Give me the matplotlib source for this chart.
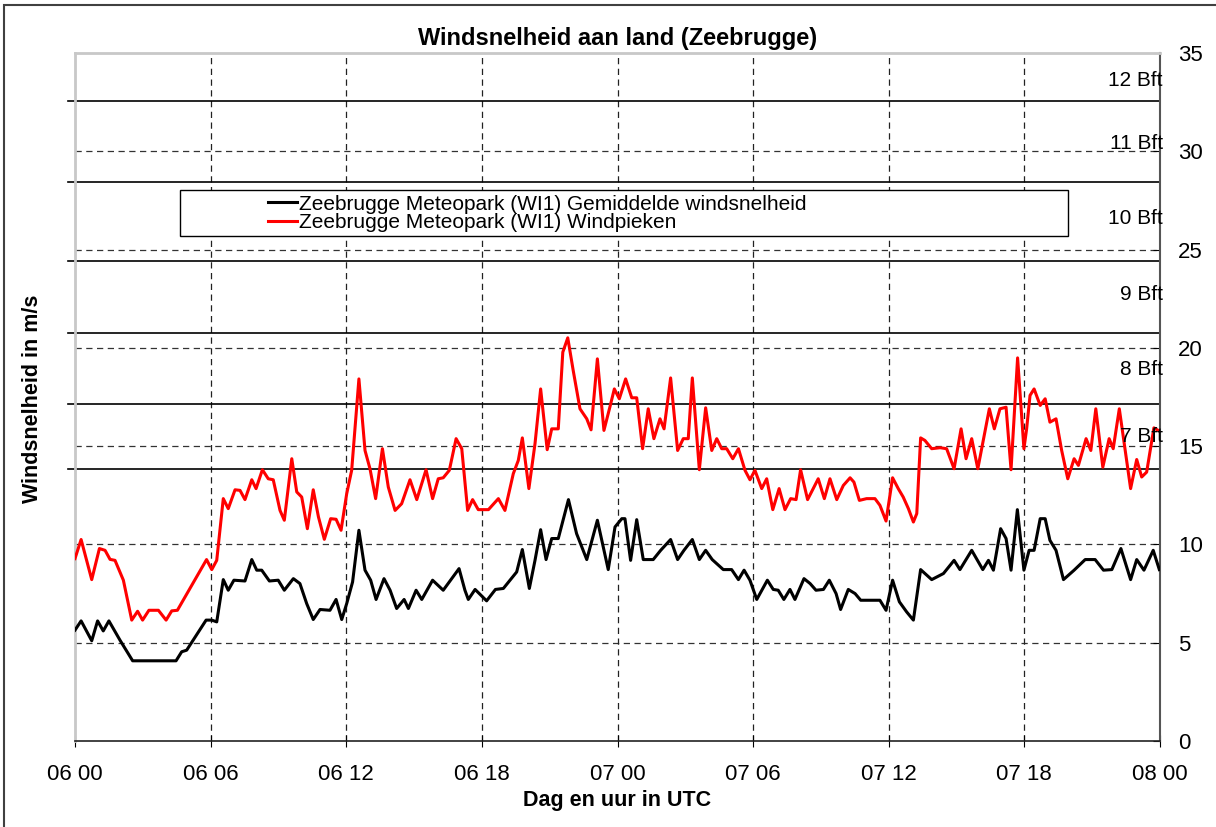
import matplotlib
matplotlib.use("Agg")
import matplotlib.pyplot as plt
from matplotlib.patches import Rectangle
import numpy as np

plt.rcParams['font.family'] = ['Liberation Sans', 'DejaVu Sans']

title = "Windsnelheid aan land (Zeebrugge)"
xlabel = "Dag en uur in UTC"
ylabel = "Windsnelheid in m/s"
label_mean = "Zeebrugge Meteopark (WI1) Gemiddelde windsnelheid"
label_gust = "Zeebrugge Meteopark (WI1) Windpieken"

xtick_pos = [0, 6, 12, 18, 24, 30, 36, 42, 48]
xtick_labels = ["06 00", "06 06", "06 12", "06 18", "07 00", "07 06", "07 12", "07 18", "08 00"]
ytick_pos = [0, 5, 10, 15, 20, 25, 30, 35]

bft_bounds = [13.85, 17.12, 20.75, 24.4, 28.42, 32.55]
bft_names = ["7 Bft", "8 Bft", "9 Bft", "10 Bft", "11 Bft", "12 Bft"]
bft_label_y = [15.5, 18.9, 22.7, 26.6, 30.4, 33.6]

# hours since 06 00 UTC, wind peaks (m/s)
gust_t = [0.00, 0.27, 0.74, 1.08, 1.33, 1.55, 1.77, 2.14, 2.51, 2.77, 2.99, 3.27, 3.69, 4.03, 4.28, 4.53,
          5.82, 6.05, 6.27, 6.56, 6.78, 7.08, 7.30, 7.52, 7.82, 8.01, 8.29, 8.55, 8.77, 9.07, 9.26, 9.59,
          9.81, 10.03, 10.28, 10.54, 10.77, 11.03, 11.31, 11.55, 11.77, 12.02, 12.24, 12.56, 12.83, 13.05,
          13.30, 13.60, 13.86, 14.16, 14.45, 14.82, 15.12, 15.53, 15.82, 16.07, 16.29, 16.56, 16.86, 17.11,
          17.37, 17.59, 17.84, 18.29, 18.73, 19.02, 19.39, 19.61, 19.79, 20.08, 20.35, 20.60, 20.89, 21.09,
          21.38, 21.58, 21.80, 22.04, 22.34, 22.64, 22.83, 23.11, 23.40, 23.67, 23.86, 24.08, 24.36, 24.63,
          24.85, 25.11, 25.36, 25.61, 25.88, 26.06, 26.35, 26.66, 26.91, 27.13, 27.31, 27.62, 27.90, 28.17,
          28.39, 28.61, 28.83, 29.10, 29.35, 29.64, 29.86, 30.08, 30.38, 30.60, 30.87, 31.15, 31.41, 31.66,
          31.90, 32.10, 32.41, 32.66, 32.88, 33.15, 33.40, 33.70, 33.99, 34.29, 34.46, 34.70, 35.02, 35.39,
          35.61, 35.88, 36.17, 36.42, 36.64, 36.87, 37.09, 37.24, 37.41, 37.60, 37.90, 38.27, 38.56, 38.89,
          39.20, 39.42, 39.67, 39.94, 40.18, 40.45, 40.67, 40.92, 41.19, 41.41, 41.70, 41.98, 42.10, 42.25,
          42.43, 42.70, 42.92, 43.13, 43.40, 43.65, 43.92, 44.20, 44.39, 44.73, 44.94, 45.16, 45.47, 45.75,
          45.93, 46.20, 46.45, 46.70, 46.97, 47.19, 47.41, 47.73, 47.92]
gust_v = [9.28, 10.25, 8.21, 9.79, 9.70, 9.24, 9.19, 8.18, 6.15, 6.60, 6.15, 6.65, 6.65, 6.15, 6.62, 6.65,
          9.23, 8.72, 9.19, 12.33, 11.82, 12.78, 12.75, 12.28, 13.29, 12.84, 13.80, 13.34, 13.29, 11.73, 11.23, 14.36,
          12.67, 12.41, 10.80, 12.78, 11.40, 10.26, 11.31, 11.28, 10.72, 12.58, 13.77, 18.42, 14.78, 13.85,
          12.33, 14.87, 12.92, 11.73, 12.07, 13.29, 12.28, 13.80, 12.33, 13.34, 13.39, 13.77, 15.38, 14.87,
          11.73, 12.28, 11.77, 11.77, 12.33, 11.73, 13.60, 14.27, 15.42, 12.84, 15.12, 17.91, 14.82, 15.88,
          15.88, 19.78, 20.51, 18.85, 16.90, 16.39, 15.83, 19.44, 15.80, 17.02, 17.91, 17.41, 18.42, 17.46,
          17.46, 14.87, 16.90, 15.38, 16.39, 15.88, 18.47, 14.78, 15.38, 15.38, 18.47, 13.80, 16.95, 14.78,
          15.38, 14.87, 14.87, 14.36, 14.87, 13.77, 13.29, 13.77, 12.84, 13.34, 11.77, 12.84, 11.77, 12.33,
          12.28, 13.80, 12.28, 12.84, 13.34, 12.33, 13.34, 12.28, 13.00, 13.39, 13.17, 12.24, 12.33, 12.33,
          11.99, 11.19, 13.39, 12.84, 12.41, 11.82, 11.14, 11.57, 15.42, 15.29, 14.87, 14.92, 14.87, 13.85,
          15.88, 14.36, 15.38, 13.85, 15.29, 16.90, 15.88, 16.90, 16.98, 13.80, 19.49, 14.87, 15.88, 17.58,
          17.91, 17.07, 17.41, 16.22, 16.39, 14.78, 13.34, 14.36, 14.02, 15.38, 14.78, 16.90, 13.93, 15.38,
          14.87, 16.90, 14.87, 12.84, 14.32, 13.43, 13.68, 15.93, 15.80]

# hours since 06 00 UTC, mean wind speed (m/s)
mean_t = [0.00, 0.27, 0.74, 1.00, 1.25, 1.50, 1.99, 2.55, 4.47, 4.72, 4.94, 5.80, 6.05, 6.27, 6.56, 6.78,
          7.03, 7.52, 7.82, 8.04, 8.26, 8.60, 8.99, 9.26, 9.66, 9.95, 10.25, 10.54, 10.84, 11.28, 11.55, 11.80,
          12.02, 12.28, 12.56, 12.83, 13.08, 13.32, 13.67, 13.94, 14.23, 14.56, 14.75, 15.09, 15.34, 15.82,
          16.29, 16.99, 17.25, 17.40, 17.70, 18.21, 18.60, 18.95, 19.54, 19.79, 20.10, 20.35, 20.60, 20.84,
          21.09, 21.38, 21.83, 22.19, 22.64, 23.11, 23.59, 23.89, 24.19, 24.33, 24.58, 24.85, 25.14, 25.58,
          25.91, 26.35, 26.66, 26.94, 27.31, 27.62, 27.90, 28.19, 28.68, 29.05, 29.35, 29.60, 29.86, 30.16,
          30.63, 30.89, 31.11, 31.36, 31.63, 31.85, 32.25, 32.52, 32.78, 33.11, 33.37, 33.67, 33.87, 34.21,
          34.51, 34.76, 35.61, 35.88, 36.17, 36.47, 36.79, 37.09, 37.41, 37.90, 38.42, 38.89, 39.15, 39.67,
          40.16, 40.41, 40.63, 40.95, 41.19, 41.41, 41.69, 41.98, 42.21, 42.43, 42.70, 42.92, 43.13, 43.40,
          43.73, 44.20, 44.69, 45.13, 45.50, 45.87, 46.27, 46.70, 46.97, 47.29, 47.70, 47.97]
mean_v = [5.64, 6.11, 5.10, 6.11, 5.60, 6.11, 5.13, 4.08, 4.08, 4.54, 4.62, 6.15, 6.15, 6.06, 8.21, 7.67,
          8.18, 8.14, 9.23, 8.69, 8.69, 8.14, 8.18, 7.67, 8.26, 8.01, 6.99, 6.18, 6.69, 6.65, 7.20, 6.18,
          6.99, 8.09, 10.72, 8.69, 8.18, 7.20, 8.26, 7.67, 6.74, 7.20, 6.74, 7.67, 7.20, 8.18,
          7.67, 8.77, 7.67, 7.20, 7.71, 7.13, 7.71, 7.76, 8.60, 9.74, 7.76, 9.19, 10.75, 9.23,
          10.30, 10.30, 12.28, 10.55, 9.23, 11.23, 8.72, 10.89, 11.31, 11.31, 9.19, 11.26, 9.23, 9.23,
          9.70, 10.25, 9.23, 9.70, 10.25, 9.23, 9.70, 9.23, 8.72, 8.72, 8.21, 8.69, 8.18, 7.20,
          8.18, 7.71, 7.67, 7.20, 7.71, 7.20, 8.26, 8.01, 7.67, 7.71, 8.18, 7.50, 6.69, 7.71,
          7.50, 7.16, 7.16, 6.65, 8.18, 7.08, 6.57, 6.15, 8.72, 8.21, 8.52, 9.19, 8.72, 9.70,
          8.72, 9.19, 8.69, 10.80, 10.30, 8.69, 11.77, 8.69, 9.70, 9.70, 11.31, 11.31, 10.21, 9.70,
          8.21, 8.69, 9.23, 9.23, 8.69, 8.72, 9.79, 8.21, 9.23, 8.69, 9.70, 8.72]

W, H = 1216, 827
fig = plt.figure(figsize=(W / 100, H / 100), dpi=100)
ax = fig.add_axes([75 / W, 1 - 741 / H, (1160 - 75) / W, (741 - 53) / H])

# outer frame
fig.patches.append(Rectangle((4 / W, -0.05), 1.2, (1 - 5 / H) + 0.05, transform=fig.transFigure,
                             fill=False, edgecolor='#404040', linewidth=1.5))

ax.set_xlim(0, 48)
ax.set_ylim(0, 35)

dash = (0, (5, 3.6))
for y in ytick_pos[1:-1]:
    ax.axhline(y, color='#333333', lw=0.9, ls=dash, zorder=1)
for x in xtick_pos[1:-1]:
    ax.axvline(x, color='#222222', lw=0.9, ls=dash, zorder=1)

for b in bft_bounds:
    ax.axhline(b, xmin=-0.0065, xmax=1.0, color='black', lw=1.2, zorder=2, clip_on=False)
for name, y in zip(bft_names, bft_label_y):
    ax.text(48.12, y, name, ha='right', va='center', fontsize=15, zorder=5)

ax.plot(mean_t, mean_v, color='black', lw=2.2, zorder=4, solid_joinstyle='round', label=label_mean)
ax.plot(gust_t, gust_v, color='#ff0000', lw=2.2, zorder=4, solid_joinstyle='round', label=label_gust)

# legend box
lx0 = (180 - 75) / 1085
ly0 = (741 - 236) / 688
ax.add_patch(Rectangle((lx0, ly0), (1068 - 180) / 1085, 46 / 688, transform=ax.transAxes,
                       facecolor='white', edgecolor='black', lw=1.0, zorder=6))
leg = ax.legend(loc='center left', bbox_to_anchor=((268 - 75) / 1085, (741 - 213.5) / 688),
                frameon=False, fontsize=15, handlelength=1.4, handletextpad=0.1,
                labelspacing=0.0, borderpad=0, borderaxespad=0)
leg.set_zorder(7)

ax.set_xticks(xtick_pos)
ax.set_xticklabels(xtick_labels, fontsize=16)
ax.set_yticks(ytick_pos)
ax.yaxis.tick_right()
ax.tick_params(axis='y', which='both', direction='in', length=5, labelsize=16, pad=13,
               colors='black', left=False, right=True, labelleft=False, labelright=True)
ax.tick_params(axis='x', direction='inout', length=9, pad=12)

for s in ['left', 'top']:
    ax.spines[s].set_color('#c8c8c8')
    ax.spines[s].set_linewidth(2)
ax.spines['right'].set_color('#555555')
ax.spines['right'].set_linewidth(1.5)
ax.spines['bottom'].set_color('#222222')
ax.spines['bottom'].set_linewidth(1.2)

ax.set_title(title, fontsize=17, fontweight='bold', pad=6)
ax.set_xlabel(xlabel, fontsize=15.5, fontweight='bold', labelpad=4)
fig.text(33 / W, 1 - 399 / H, ylabel, rotation=90, ha='center', va='center', fontsize=15.5, fontweight='bold')

fig.savefig('out.png', dpi=100)
